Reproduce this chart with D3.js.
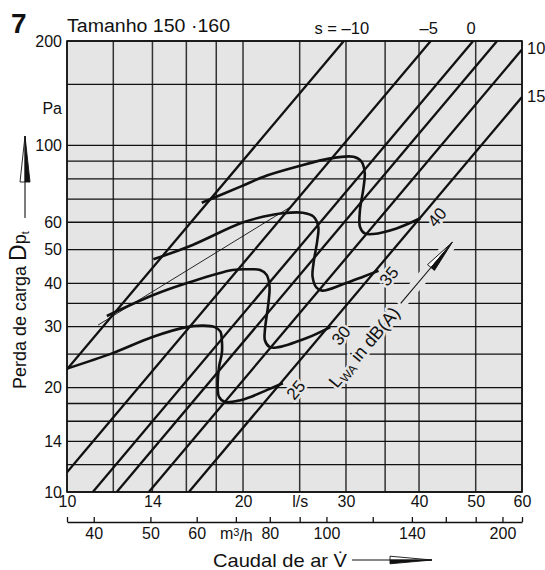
<!DOCTYPE html>
<html>
<head>
<meta charset="utf-8">
<script src="https://cdn.jsdelivr.net/npm/d3@7"></script>
<style>
  body { margin: 0; background: #fff; }
  svg { display: block; font-family: "Liberation Sans", Arial, Helvetica, sans-serif; }
</style>
</head>
<body>
<svg id="chart" width="545" height="570"></svg>
<script>
// Volume flow (l/s): grid lines and labelled values
const flowGrid = [10, 12, 14, 16, 18, 20, 25, 30, 35, 40, 50, 60];
const flowLabelValues = [10, 14, 20, 25, 30, 40, 50, 60];
const flowLabelText = ["10", "14", "20", "l/s", "30", "40", "50", "60"];

// Same flow in m³/h
const m3hTicks = [36, 40, 50, 60, 70, 80, 90, 100, 120, 140, 160, 180, 200, 216];
const m3hLabelValues = [40, 50, 60, 80, 100, 140, 200];
const m3hUnitAt = 70;

// Pressure drop (Pa)
const pressureGrid = [10, 12, 14, 16, 18, 20, 25, 30, 35, 40, 50, 60, 70, 80, 90, 100, 150, 200];
const pressureLabels = [10, 14, 20, 30, 40, 50, 60, 100, 200];
const pressureUnitAt = 127;

// Damper settings s: straight lines Δp = k·V², given as Δp (Pa) at 10 l/s
const damperSettings = [-10, -5, 0, 5, 10, 15];
const damperPressureAt10 = [22.6, 11.4, 8.16, 6.76, 5.25, 3.83];
const damperTopLabels = ["s = \u201310", "\u20135", "0", "", "", ""];
const damperSideLabels = ["", "", "", "", "10", "15"];

// Sound power level curves L_WA in dB(A): [flow l/s, pressure Pa]
const lwaLevels = [25, 30, 35, 40];
const lwa25 = [[10, 22.7], [12, 25.2], [14, 28.0], [16, 29.9], [17.1, 30.2], [17.9, 29.9],
  [18.3, 29.0], [18.4, 27.4], [18.4, 25.1], [18.2, 23.0], [18.1, 20.1], [18.2, 18.8],
  [18.6, 18.2], [19.8, 18.4], [20.6, 18.8], [22.0, 19.7], [23.4, 20.6]];
const lwa30 = [[11.7, 32.2], [14.05, 37.0], [16.0, 40.0], [19.2, 43.7], [20.6, 43.9],
  [21.4, 43.7], [21.95, 42.3], [22.2, 39.1], [22.1, 35.0], [21.8, 29.3], [21.8, 27.4],
  [22.2, 26.2], [22.8, 26.1], [25.7, 27.8], [28.2, 29.9]];
const lwa35 = [[14.05, 46.9], [16.4, 51.6], [19.8, 59.6], [21.7, 62.3], [23.4, 63.7],
  [25.3, 63.9], [26.4, 62.3], [26.9, 58.2], [26.8, 53.3], [26.4, 45.7], [26.3, 41.8],
  [26.7, 38.9], [27.3, 38.1], [29.7, 39.8], [32.1, 41.8], [34.1, 43.5]];
const lwa40 = [[17.0, 68.3], [19.8, 76.0], [21.7, 81.2], [24.7, 86.7], [28.2, 91.7],
  [30.9, 92.7], [31.9, 89.7], [32.3, 83.1], [32.1, 74.3], [31.7, 65.1], [31.7, 58.2],
  [32.3, 55.7], [33.4, 55.5], [36.6, 57.6], [40.2, 61.6]];
const lwaCurves = [lwa25, lwa30, lwa35, lwa40];
// where each level number is written, and where the L_WA caption sits
const lwaLabelPos = [[24.6, 19.7], [29.4, 28.3], [35.5, 42.0], [42.9, 62.1]];
const lwaCaptionPos = [32.2, 26.2];

// thin reference line
const thinLine = [[11.3, 30.3], [24.1, 66.4]];

// ---------------------------------------------------------------
const plot = { left: 67, right: 522, top: 41, bottom: 492 };
const BG = "#e5e5e5";
const INK = "#111";

const svg = d3.select("#chart");
const x = d3.scaleLog().domain([10, 60]).range([plot.left, plot.right]);
const y = d3.scaleLog().domain([10, 200]).range([plot.bottom, plot.top]);
const xm = d3.scaleLog().domain([36, 216]).range([plot.left, plot.right]);

svg.append("defs").append("clipPath").attr("id", "plotClip")
  .append("rect")
  .attr("x", plot.left).attr("y", plot.top)
  .attr("width", plot.right - plot.left).attr("height", plot.bottom - plot.top);

// plot background
svg.append("rect")
  .attr("x", plot.left).attr("y", plot.top)
  .attr("width", plot.right - plot.left).attr("height", plot.bottom - plot.top)
  .attr("fill", BG);

// grid
const grid = svg.append("g");
grid.selectAll("line.v").data(flowGrid).join("line").attr("class", "v")
  .attr("x1", d => x(d)).attr("x2", d => x(d))
  .attr("y1", plot.top).attr("y2", plot.bottom)
  .attr("stroke", "#333").attr("stroke-width", 1.5);
grid.selectAll("line.h").data(pressureGrid).join("line").attr("class", "h")
  .attr("x1", plot.left).attr("x2", plot.right)
  .attr("y1", d => y(d)).attr("y2", d => y(d))
  .attr("stroke", INK).attr("stroke-width", 1.3);

// damper setting lines
const damperSegment = p10 => {
  const vLo = Math.max(10, 10 * Math.sqrt(10 / p10));
  const vHi = Math.min(60, 10 * Math.sqrt(200 / p10));
  return [[vLo, p10 * (vLo / 10) ** 2], [vHi, p10 * (vHi / 10) ** 2]];
};
const lineGen = d3.line().x(d => x(d[0])).y(d => y(d[1]));
const marks = svg.append("g").attr("clip-path", "url(#plotClip)");
marks.selectAll("path.damper").data(damperPressureAt10).join("path").attr("class", "damper")
  .attr("d", p => lineGen(damperSegment(p)))
  .attr("fill", "none").attr("stroke", INK).attr("stroke-width", 2.3);

// direction of the damper lines on screen (used for rotated labels)
const seg0 = damperSegment(damperPressureAt10[0]);
const slopeAngle = Math.atan2(y(seg0[1][1]) - y(seg0[0][1]), x(seg0[1][0]) - x(seg0[0][0])) * 180 / Math.PI;

// thin line
marks.append("path").attr("d", lineGen(thinLine))
  .attr("fill", "none").attr("stroke", INK).attr("stroke-width", 0.9);

// sound level curves
const curveGen = d3.line().x(d => x(d[0])).y(d => y(d[1])).curve(d3.curveCatmullRom.alpha(0.5));
marks.selectAll("path.lwa").data(lwaCurves).join("path").attr("class", "lwa")
  .attr("d", curveGen)
  .attr("fill", "none").attr("stroke", INK).attr("stroke-width", 2.6)
  .attr("stroke-linejoin", "round").attr("stroke-linecap", "butt");

// frame
svg.append("rect")
  .attr("x", plot.left).attr("y", plot.top)
  .attr("width", plot.right - plot.left).attr("height", plot.bottom - plot.top)
  .attr("fill", "none").attr("stroke", INK).attr("stroke-width", 1.6);

// level numbers along the curves, knocked out of the grid
const halo = sel => sel.attr("stroke", BG).attr("stroke-width", 5)
  .attr("paint-order", "stroke").attr("stroke-linejoin", "round");
svg.append("g").selectAll("text").data(lwaLevels).join("text")
  .attr("transform", (d, i) => `translate(${x(lwaLabelPos[i][0])},${y(lwaLabelPos[i][1])}) rotate(${slopeAngle})`)
  .attr("text-anchor", "middle").attr("dy", "0.36em")
  .attr("font-size", 17).attr("fill", INK)
  .call(halo)
  .text(d => d);

// L_WA caption with arrow
const cap = svg.append("g")
  .attr("transform", `translate(${x(lwaCaptionPos[0])},${y(lwaCaptionPos[1])}) rotate(${slopeAngle})`);
const capText = cap.append("text").attr("text-anchor", "middle").attr("dy", "0.36em")
  .attr("font-size", 18).attr("fill", INK).call(halo);
capText.append("tspan").text("L");
capText.append("tspan").attr("font-size", 12).attr("dy", 3).text("WA");
capText.append("tspan").attr("dy", -3).text(" in dB(A)");

function arrow(g, x0, len, head, half) {
  g.append("line").attr("x1", x0).attr("x2", x0 + len - head).attr("y1", 0).attr("y2", 0)
    .attr("stroke", INK).attr("stroke-width", 1.1);
  g.append("path")
    .attr("d", `M${x0 + len - head},0L${x0 + len},0L${x0 + len - head},${-half}Z`)
    .attr("fill", "#fff").attr("stroke", INK).attr("stroke-width", 0.9).attr("stroke-linejoin", "miter");
  g.append("path")
    .attr("d", `M${x0 + len - head},0L${x0 + len},0L${x0 + len - head},${half}Z`)
    .attr("fill", INK).attr("stroke", INK).attr("stroke-width", 0.9);
}
cap.append("rect").attr("x", 55).attr("y", -6).attr("width", 82).attr("height", 12).attr("fill", BG);
arrow(cap, 57, 80, 33, 4.5);

// ---- axes ----
const styleAxis = g => g.attr("font-family", null).attr("font-size", 16)
  .call(s => s.selectAll("text").attr("fill", INK));

const axisFlow = svg.append("g").attr("transform", `translate(0,${plot.bottom})`)
  .call(d3.axisBottom(x).tickValues(flowLabelValues)
    .tickFormat(d => flowLabelText[flowLabelValues.indexOf(d)])
    .tickSize(0).tickPadding(4))
  .call(styleAxis);
axisFlow.select(".domain").remove();

const axisM = svg.append("g").attr("transform", "translate(0,522)")
  .call(d3.axisBottom(xm).tickValues(m3hTicks).tickSizeInner(-5).tickSizeOuter(0).tickPadding(6)
    .tickFormat(d => m3hLabelValues.includes(d) ? String(d) : ""))
  .call(styleAxis);
axisM.selectAll("line, path").attr("stroke", INK).attr("stroke-width", 1.3);
const unitTick = axisM.selectAll(".tick").filter(d => d === m3hUnitAt).select("text");
unitTick.text(null);
unitTick.append("tspan").text("m");
unitTick.append("tspan").attr("font-size", 11).attr("dy", "-0.35em").text("3");
unitTick.append("tspan").attr("dy", "0.35em").text("/h");

const axisP = svg.append("g").attr("transform", `translate(${plot.left},0)`)
  .call(d3.axisLeft(y).tickValues(pressureLabels).tickFormat(d3.format("d"))
    .tickSize(0).tickPadding(5))
  .call(styleAxis);
axisP.select(".domain").remove();
svg.append("text").attr("x", plot.left - 5).attr("y", y(pressureUnitAt)).attr("dy", "0.32em")
  .attr("text-anchor", "end").attr("font-size", 16).attr("fill", INK).text("Pa");

// damper setting labels: top edge and right edge
damperSettings.forEach((s, i) => {
  const segEnd = damperSegment(damperPressureAt10[i])[1];
  if (damperTopLabels[i]) {
    svg.append("text").attr("x", x(segEnd[0]) - 2).attr("y", plot.top - 7)
      .attr("text-anchor", "middle").attr("font-size", 16.5).attr("fill", INK)
      .text(damperTopLabels[i]);
  }
  if (damperSideLabels[i]) {
    svg.append("text").attr("x", plot.right + 5).attr("y", y(segEnd[1])).attr("dy", "0.3em")
      .attr("font-size", 16.5).attr("fill", INK)
      .text(damperSideLabels[i]);
  }
});

// titles
svg.append("text").attr("x", 11).attr("y", 33).attr("font-size", 28).attr("font-weight", "bold")
  .attr("fill", INK).text("7");
svg.append("text").attr("x", 67).attr("y", 32).attr("font-size", 18).attr("fill", INK)
  .attr("textLength", 163).attr("lengthAdjust", "spacingAndGlyphs")
  .text("Tamanho 150 \u00B7160");

// y-axis title with arrow
const yTitle = svg.append("text").attr("transform", "translate(26,389) rotate(-90)")
  .attr("font-size", 18).attr("fill", INK);
yTitle.append("tspan").text("Perda de carga ");
yTitle.append("tspan").attr("font-size", 23).text("D");
yTitle.append("tspan").text("p");
yTitle.append("tspan").attr("font-size", 11).attr("dy", 3).text("t");
arrow(svg.append("g").attr("transform", "translate(25,218) rotate(-90)"), 0, 82, 46, 5);

// x-axis title with arrow
const xTitle = svg.append("text").attr("x", 213).attr("y", 567)
  .attr("font-size", 19).attr("fill", INK);
xTitle.append("tspan").attr("textLength", 134).attr("lengthAdjust", "spacingAndGlyphs")
  .text("Caudal de ar V\u0307");
arrow(svg.append("g").attr("transform", "translate(352,560)"), 0, 80, 42, 3.8);
</script>
</body>
</html>
